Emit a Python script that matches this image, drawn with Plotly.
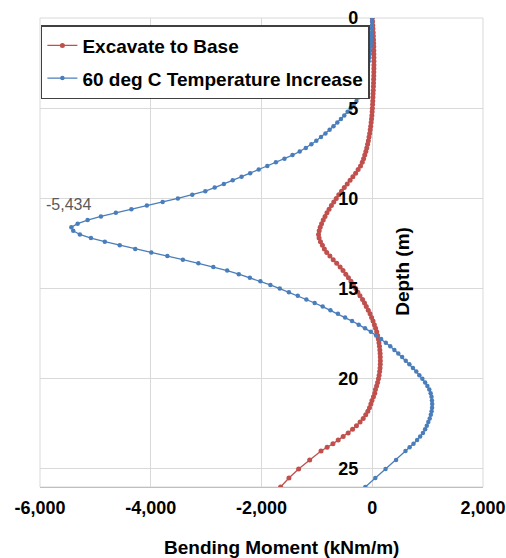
import plotly.graph_objects as go

# Depth nodes (m)
depth = [0.0, 0.2, 0.4, 0.6, 0.8, 1.0, 1.2, 1.4, 1.6, 1.8,
         2.0, 2.2, 2.4, 2.6, 2.8, 3.0, 3.2, 3.4, 3.6, 3.8,
         4.0, 4.2, 4.4, 4.6, 4.8, 5.0, 5.2, 5.4, 5.6, 5.8,
         6.0, 6.2, 6.4, 6.6, 6.8, 7.0, 7.2, 7.4, 7.6, 7.8,
         8.0, 8.2, 8.4, 8.6, 8.8, 9.0, 9.2, 9.4, 9.6, 9.8,
         10.0, 10.2, 10.4, 10.6, 10.8, 11.0, 11.2, 11.4, 11.6, 11.8,
         12.0, 12.2, 12.4, 12.6, 12.8, 13.0, 13.2, 13.4, 13.6, 13.8,
         14.0, 14.2, 14.4, 14.6, 14.8, 15.0, 15.2, 15.4, 15.6, 15.8,
         16.0, 16.2, 16.4, 16.6, 16.8, 17.0, 17.2, 17.4, 17.6, 17.8,
         18.0, 18.2, 18.4, 18.6, 18.8, 19.0, 19.2, 19.4, 19.6, 19.8,
         20.0, 20.2, 20.4, 20.6, 20.8, 21.0, 21.2, 21.4, 21.6, 21.8,
         22.0, 22.2, 22.4, 22.6, 22.8, 23.0, 23.2, 23.4, 23.6, 23.8,
         24.0, 24.5, 25.0, 25.5, 26.0]

# Bending moment (kNm/m) - Excavate to Base
excavate = [0, 5, 9, 13, 17, 20, 23, 25, 27, 28,
            29, 30, 30, 30, 29, 28, 27, 25, 23, 21,
            18, 15, 12, 9, 6, 2, -2, -7, -13, -20,
            -28, -37, -47, -58, -70, -84, -99, -116, -135, -156,
            -180, -212, -255, -300, -350, -400, -452, -505, -555, -605,
            -650, -695, -738, -780, -818, -853, -885, -915, -940, -958,
            -970, -960, -935, -900, -865, -822, -765, -705, -642, -580,
            -528, -478, -430, -384, -340, -298, -260, -222, -175, -140,
            -108, -72, -40, -12, 14, 38, 60, 80, 96, 110,
            121, 130, 137, 142, 145, 146, 145, 141, 134, 124,
            112, 97, 79, 58, 45, 22, -5, -25, -50, -80,
            -118, -163, -220, -285, -355, -435, -525, -615, -710, -815,
            -925, -1130, -1330, -1505, -1655]

# Bending moment (kNm/m) - 60 deg C Temperature Increase
temp_increase = [0, -2, -4, -7, -10, -14, -19, -24, -30, -37,
                 -45, -54, -64, -75, -88, -100, -113, -127, -143, -160,
                 -180, -205, -240, -285, -335, -390, -445, -505, -565, -630,
                 -700, -770, -845, -925, -1010, -1100, -1200, -1310, -1440, -1585,
                 -1740, -1895, -2050, -2205, -2360, -2520, -2680, -2845, -3015, -3250,
                 -3510, -3785, -4070, -4350, -4630, -4900, -5140, -5320, -5434, -5400,
                 -5280, -5080, -4830, -4560, -4280, -3990, -3700, -3420, -3140, -2870,
                 -2620, -2410, -2210, -2020, -1840, -1670, -1505, -1345, -1190, -1040,
                 -895, -755, -620, -490, -365, -245, -130, -25, 70, 160,
                 245, 325, 400, 470, 540, 605, 670, 735, 795, 850,
                 905, 955, 995, 1030, 1055, 1070, 1078, 1082, 1080, 1072,
                 1058, 1038, 1012, 985, 955, 915, 865, 810, 745, 675,
                 600, 430, 240, 55, -125]

x_tickvals = [-6000, -4000, -2000, 0, 2000]
x_ticktext = ["-6,000", "-4,000", "-2,000", "0", "2,000"]
y_tickvals = [0, 5, 10, 15, 20, 25]
y_ticktext = ["0", "5", "10", "15", "20", "25"]

RED = "#c0504d"
BLUE = "#4a7ebb"
FONT = "Liberation Sans, Arial, sans-serif"

fig = go.Figure()
fig.add_trace(go.Scatter(
    x=excavate, y=depth, mode="lines+markers", name="Excavate to Base",
    line=dict(color=RED, width=1.3), marker=dict(color=RED, size=5, symbol="circle"),
    legendgroup="a"))
fig.add_trace(go.Scatter(
    x=temp_increase, y=depth, mode="lines+markers", name="60 deg C Temperature Increase",
    line=dict(color=BLUE, width=1.3), marker=dict(color=BLUE, size=4.5, symbol="circle"),
    legendgroup="b"))

# label at the minimum of the temperature series
imin = temp_increase.index(min(temp_increase))
fig.add_annotation(x=temp_increase[imin], y=depth[imin], xref="x", yref="y",
                   text=f"{temp_increase[imin]:,}",
                   showarrow=False, xanchor="left", yanchor="middle",
                   xshift=-27, yshift=23,
                   font=dict(family=FONT, size=16, color="#595959"))

fig.add_annotation(x=0.546, y=-0.13, xref="paper", yref="paper",
                   text="Bending Moment (kNm/m)", showarrow=False,
                   xanchor="center", yanchor="middle",
                   font=dict(family=FONT, size=19, color="#000000", weight="bold"))
fig.add_annotation(x=0.819, y=0.4606, xref="paper", yref="paper",
                   text="Depth (m)", showarrow=False, textangle=-90,
                   xanchor="center", yanchor="middle",
                   font=dict(family=FONT, size=19, color="#000000", weight="bold"))

fig.update_layout(
    width=506, height=558,
    margin=dict(l=40, r=23, t=18, b=71, autoexpand=False),
    paper_bgcolor="white", plot_bgcolor="white",
    font=dict(family=FONT, color="#000000"),
    showlegend=True,
    legend=dict(x=0.002, y=0.985, xanchor="left", yanchor="top",
                bgcolor="white", bordercolor="#404040", borderwidth=1.5,
                font=dict(family=FONT, size=19, color="#000000", weight="bold"),
                itemwidth=30, tracegroupgap=5, traceorder="grouped"),
    xaxis=dict(range=[-6000, 2000], tickvals=x_tickvals, ticktext=x_ticktext,
               showgrid=True, gridcolor="#d9d9d9", gridwidth=1,
               zeroline=True, zerolinecolor="#d9d9d9", zerolinewidth=1,
               showline=True, linecolor="#bfbfbf", linewidth=1, mirror=False,
               ticks="", ticklabelstandoff=4,
               tickfont=dict(family=FONT, size=18, color="#000000", weight="bold")),
    yaxis=dict(range=[26, 0], tickvals=y_tickvals, ticktext=y_ticktext,
               anchor="free", position=0.75, side="left",
               showgrid=True, gridcolor="#d9d9d9", gridwidth=1,
               zeroline=False, showline=False, ticks="", ticklabelstandoff=14,
               tickfont=dict(family=FONT, size=18, color="#000000", weight="bold")),
)

fig.add_shape(type="rect", xref="paper", yref="paper", x0=0, y0=0, x1=1, y1=1,
              line=dict(color="#d9d9d9", width=1), layer="below")

fig.write_html("out.html", config={"displayModeBar": False},
               post_script="document.body.style.margin='0';document.body.style.overflow='hidden';")
